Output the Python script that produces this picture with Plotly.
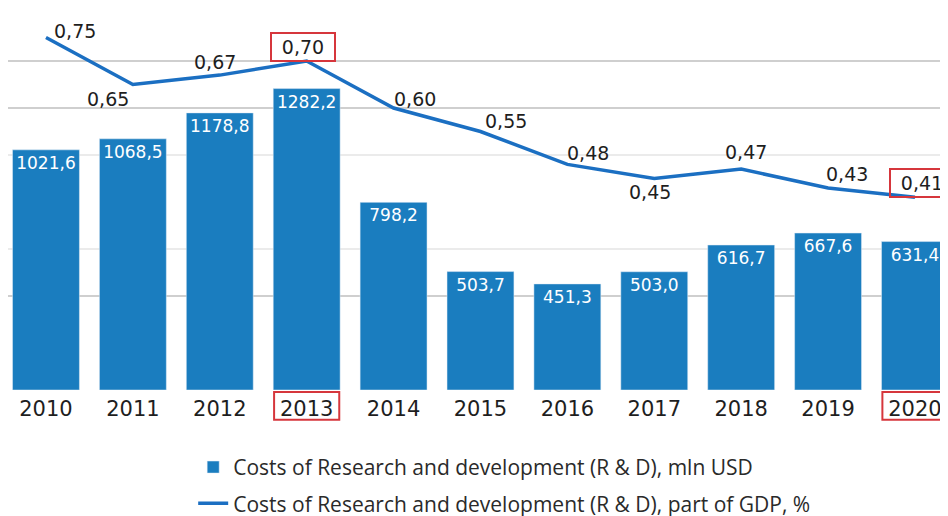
import plotly.graph_objects as go

years = ["2010", "2011", "2012", "2013", "2014", "2015", "2016", "2017", "2018", "2019", "2020"]
rd_costs = [1021.6, 1068.5, 1178.8, 1282.2, 798.2, 503.7, 451.3, 503.0, 616.7, 667.6, 631.4]
rd_share_gdp = [0.75, 0.65, 0.67, 0.70, 0.60, 0.55, 0.48, 0.45, 0.47, 0.43, 0.41]
highlight_years = ["2013", "2020"]

bar_name = "Costs of Research and development (R & D), mln USD"
line_name = "Costs of Research and development (R & D), part of GDP, %"

# label offsets (pixels) for the line value labels
label_dx = [29, -25, -5, -4, 21, 26, 21, -4, 5, 19, 7]
label_dy = [7, -14, 13, 14, 9, 11, 11, -13, 17, 14, 14]

BAR_C = "#1a7dbf"
LINE_C = "#1b6fc2"
RED = "#d6363c"
TXT = "#1e1e1e"
NUM_FONT = "DejaVu Sans"

fig = go.Figure()
fig.add_trace(go.Bar(
    x=years, y=rd_costs, name=bar_name, marker_color=BAR_C,
    text=[f"{v:.1f}".replace(".", ",") for v in rd_costs],
    textposition="inside", insidetextanchor="end", textangle=0,
    constraintext="none",
    textfont=dict(family=NUM_FONT, size=17, color="white"),
    legendgroup="a",
))
fig.add_trace(go.Scatter(
    x=years, y=rd_share_gdp, name=line_name, mode="lines",
    line=dict(color=LINE_C, width=3.5), yaxis="y2", legendgroup="b",
))

for i, (yr, v) in enumerate(zip(years, rd_share_gdp)):
    kw = dict(x=i, y=v, xref="x", yref="y2", text=f"{v:.2f}".replace(".", ","),
              showarrow=False, xshift=label_dx[i], yshift=label_dy[i],
              font=dict(family=NUM_FONT, size=19, color=TXT))
    if yr in highlight_years:
        kw.update(bordercolor=RED, borderwidth=2, borderpad=3, width=56, height=20)
    fig.add_annotation(**kw)

for yr in highlight_years:
    i = years.index(yr)
    fig.add_shape(type="rect", xref="x", yref="paper",
                  x0=i - 0.375, x1=i + 0.375, y0=-0.005, y1=-0.078,
                  line=dict(color=RED, width=2))

fig.update_layout(
    width=940, height=540,
    margin=dict(l=0, r=0, t=0, b=158),
    plot_bgcolor="white", paper_bgcolor="white",
    separators=",.",
    bargap=0.23,
    showlegend=True,
    legend=dict(orientation="v", x=0.197, y=-0.149, xanchor="left", yanchor="top",
                traceorder="grouped", tracegroupgap=6,
                font=dict(family="Open Sans", size=21, color="#2a2a2a")),
    xaxis=dict(type="category", range=[-0.437, 10.38], showgrid=False, zeroline=False,
               showline=False, ticks="", tickfont=dict(family=NUM_FONT, size=21, color=TXT),
               ticklabelstandoff=4),
    yaxis=dict(range=[0, 1625], tickvals=[400, 1200, 1400], showgrid=True,
               gridcolor="#cfcfcf", gridwidth=1.5,
               minor=dict(tickvals=[600, 1000], showgrid=True, gridcolor="#ebebeb", gridwidth=1.5),
               zeroline=False, showticklabels=False, showline=False),
    yaxis2=dict(range=[0, 0.8128], overlaying="y", side="right", showgrid=False,
                zeroline=False, showticklabels=False, showline=False),
)

fig.write_html("out.html")
